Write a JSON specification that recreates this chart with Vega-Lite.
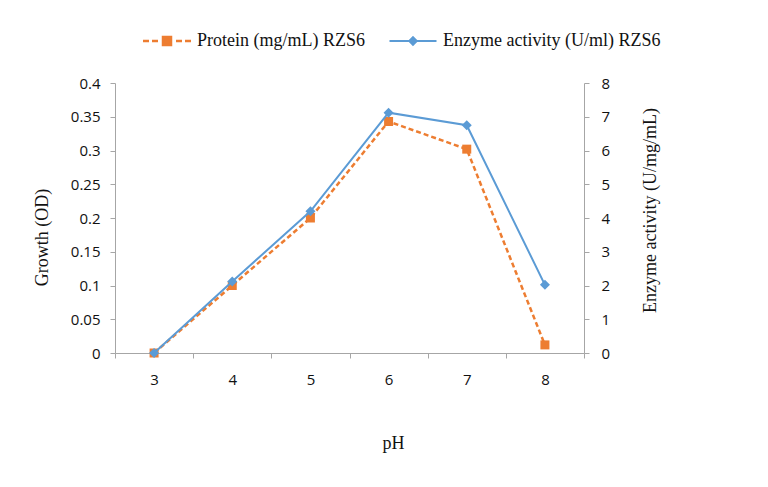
{
  "$schema": "https://vega.github.io/schema/vega-lite/v6.json",
  "width": 469,
  "height": 270,
  "autosize": {"type": "none"},
  "padding": {"left": 115, "top": 83, "right": 184, "bottom": 134},
  "background": "white",
  "data": {
    "values": [
      {"pH": 3, "protein": 0.0, "enzyme": 0.0},
      {"pH": 4, "protein": 0.1, "enzyme": 2.12},
      {"pH": 5, "protein": 0.2, "enzyme": 4.2},
      {"pH": 6, "protein": 0.343, "enzyme": 7.12},
      {"pH": 7, "protein": 0.302, "enzyme": 6.75},
      {"pH": 8, "protein": 0.012, "enzyme": 2.02}
    ]
  },
  "encoding": {
    "x": {
      "field": "pH",
      "type": "ordinal",
      "scale": {"type": "band", "paddingInner": 0, "paddingOuter": 0},
      "axis": {
        "title": "pH",
        "labelAngle": 0,
        "tickBand": "extent",
        "tickSize": 5,
        "labelPadding": 14,
        "titleX": 278,
        "titleY": 90,
        "titleBaseline": "middle"
      }
    }
  },
  "layer": [
    {
      "encoding": {
        "y": {
          "field": "protein",
          "type": "quantitative",
          "scale": {"domain": [0, 0.4], "nice": false},
          "axis": {
            "title": "Growth (OD)",
            "orient": "left",
            "values": [0, 0.05, 0.1, 0.15, 0.2, 0.25, 0.3, 0.35, 0.4],
            "format": "~g",
            "tickSize": 5,
            "labelPadding": 10,
            "titleX": -73,
            "titleY": 154,
            "titleBaseline": "middle"
          }
        },
        "color": {
          "datum": "Protein (mg/mL) RZS6",
          "type": "nominal",
          "scale": {
            "domain": ["Protein (mg/mL) RZS6", "Enzyme activity (U/ml) RZS6"],
            "range": ["#ED7D31", "#5B9BD5"]
          },
          "legend": {
            "orient": "none",
            "legendX": 43,
            "legendY": -51,
            "direction": "horizontal",
            "title": null,
            "padding": 0,
            "labelFont": "Liberation Serif",
            "labelFontSize": 18,
            "labelColor": "#111111",
            "labelLimit": 500,
            "symbolSize": 100,
            "labelOffset": 21,
            "columnPadding": 20,
            "encode": {
              "symbols": {
                "update": {
                  "shape": {"signal": "datum.value == 'Protein (mg/mL) RZS6' ? 'M-4.8,0H-3.6M-3,0H-1.8M1.8,0H3M3.6,0H4.8M-0.8,-0.8H0.8V0.8H-0.8Z' : 'M-4.7,0H4.7M0,-0.75L0.75,0L0,0.75L-0.75,0Z'"},
                  "fill": {"signal": "datum.value == 'Protein (mg/mL) RZS6' ? '#ED7D31' : '#5B9BD5'"},
                  "stroke": {"signal": "datum.value == 'Protein (mg/mL) RZS6' ? '#ED7D31' : '#5B9BD5'"},
                  "strokeWidth": {"signal": "datum.value == 'Protein (mg/mL) RZS6' ? 2.5 : 2"},
                  "strokeDash": {"value": []},
                  "opacity": {"value": 1},
                  "fillOpacity": {"value": 1},
                  "strokeOpacity": {"value": 1}
                }
              }
            }
          }
        }
      },
      "layer": [
        {"mark": {"type": "line", "strokeDash": [5, 3], "strokeWidth": 2.5}},
        {"mark": {"type": "point", "shape": "square", "filled": true, "size": 81, "opacity": 1}}
      ]
    },
    {
      "encoding": {
        "y": {
          "field": "enzyme",
          "type": "quantitative",
          "scale": {"domain": [0, 8], "nice": false},
          "axis": {
            "title": "Enzyme activity (U/mg/mL)",
            "orient": "right",
            "values": [0, 1, 2, 3, 4, 5, 6, 7, 8],
            "format": "d",
            "tickSize": 5,
            "labelPadding": 12,
            "titleAngle": 270,
            "titleX": 66,
            "titleY": 127,
            "titleBaseline": "middle"
          }
        },
        "color": {"datum": "Enzyme activity (U/ml) RZS6", "type": "nominal"}
      },
      "layer": [
        {"mark": {"type": "line", "strokeWidth": 2}},
        {"mark": {"type": "point", "shape": "diamond", "filled": true, "size": 100, "opacity": 1}}
      ]
    }
  ],
  "resolve": {"scale": {"y": "independent"}},
  "config": {
    "view": {"stroke": null},
    "axis": {
      "grid": false,
      "domainColor": "#A6A6A6",
      "tickColor": "#A6A6A6",
      "labelFont": "Open Sans",
      "labelFontSize": 15,
      "labelColor": "#111111",
      "titleFont": "Liberation Serif",
      "titleFontSize": 18,
      "titleFontWeight": "normal",
      "titleColor": "#111111"
    }
  }
}
